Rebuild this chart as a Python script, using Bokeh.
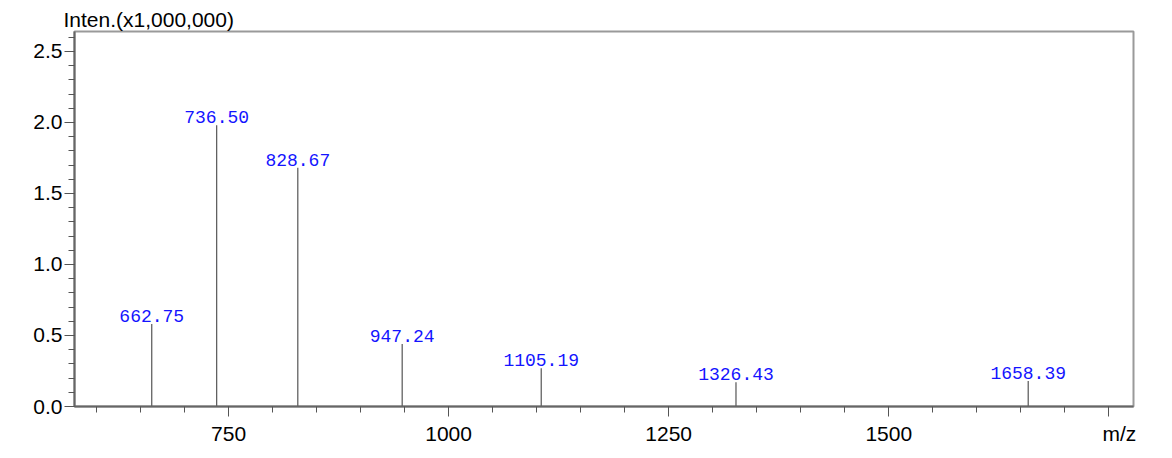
from bokeh.plotting import figure
from bokeh.models import ColumnDataSource, Range1d, SingleIntervalTicker, LabelSet, Title, CustomJSTickFormatter
from bokeh.core.properties import value
from bokeh.embed import file_html
from bokeh.resources import INLINE

# data
mz = [662.75, 736.50, 828.67, 947.24, 1105.19, 1326.43, 1658.39]
intensity = [0.58, 1.98, 1.68, 0.44, 0.27, 0.17, 0.18]
peak_labels = ["662.75", "736.50", "828.67", "947.24", "1105.19", "1326.43", "1658.39"]
x_ticks_major = 250
y_ticks_major = 0.5
y_title = "Inten.(x1,000,000)"
x_title = "m/z"

src = ColumnDataSource(dict(x=mz, y=intensity, base=[0] * len(mz), lab=peak_labels))

x0, x1 = 575, 1778
y0, y1 = 0, 2.64

p = figure(frame_width=1059, frame_height=375, output_backend="svg", toolbar_location=None,
           x_range=Range1d(x0, x1), y_range=Range1d(y0, y1),
           min_border_left=74, min_border_right=25, min_border_top=31, min_border_bottom=44)
p.background_fill_color = "white"
p.border_fill_color = "white"
p.outline_line_color = "#9a9a9a"
p.outline_line_width = 2
p.grid.visible = False

p.segment(x0="x", y0="base", x1="x", y1="y", source=src, line_color="#555555", line_width=1.2)

labels = LabelSet(x="x", y="y", text="lab", source=src, text_align="center", text_baseline="bottom",
                  y_offset=2, text_color="#1414ff", text_font=value("Liberation Mono"),
                  text_font_size="18px")
p.add_layout(labels)

for ax in (p.xaxis[0], p.yaxis[0]):
    ax.axis_line_color = "#666666"
    ax.axis_line_width = 2
    ax.major_tick_line_color = "#555555"
    ax.minor_tick_line_color = "#555555"
    ax.major_tick_in = 0
    ax.minor_tick_in = 0
    ax.major_tick_out = 10
    ax.minor_tick_out = 6
    ax.major_label_text_font = "Liberation Sans"
    ax.major_label_text_font_size = "21px"
    ax.major_label_text_color = "black"

p.xaxis.ticker = SingleIntervalTicker(interval=x_ticks_major, num_minor_ticks=5)
p.yaxis.ticker = SingleIntervalTicker(interval=y_ticks_major, num_minor_ticks=5)
p.xaxis.major_label_overrides = {1750: "\u2002\u2002" + x_title}
p.yaxis.formatter = CustomJSTickFormatter(code="return tick.toFixed(1);")
p.xaxis.major_label_standoff = 5
p.yaxis.major_label_standoff = 2

t = Title(text=y_title, align="left", offset=-11, text_font="Liberation Sans",
          text_font_size="21px", text_font_style="normal", text_color="black",
          standoff=2, vertical_align="bottom")
p.add_layout(t, "above")

open("out.html", "w").write(file_html(p, INLINE))
